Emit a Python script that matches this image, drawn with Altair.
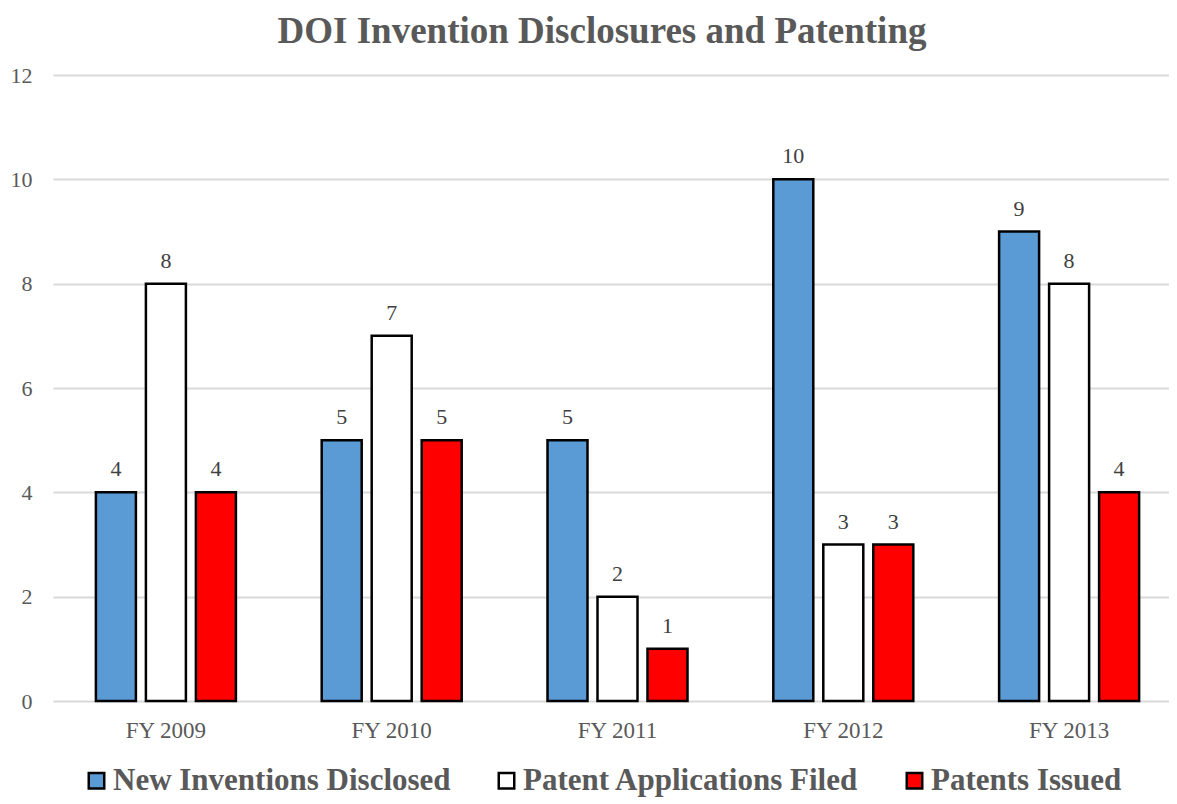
import altair as alt
import pandas as pd

years = ["FY 2009", "FY 2010", "FY 2011", "FY 2012", "FY 2013"]
series = ["New Inventions Disclosed", "Patent Applications Filed", "Patents Issued"]
new_inventions = [4, 5, 5, 10, 9]
applications_filed = [8, 7, 2, 3, 8]
patents_issued = [4, 5, 1, 3, 4]
colors = ["#5B9BD5", "#FFFFFF", "#FF0000"]
y_ticks = [0, 2, 4, 6, 8, 10, 12]

rows = []
for name, vals in zip(series, [new_inventions, applications_filed, patents_issued]):
    for yr, v in zip(years, vals):
        rows.append({"year": yr, "series": name, "value": v})
df = pd.DataFrame(rows)

FONT = "Liberation Serif"

base = alt.Chart(df).encode(
    x=alt.X(
        "year:N",
        sort=years,
        scale=alt.Scale(paddingInner=0.38, paddingOuter=0.19, range=[0, 1129]),
        axis=alt.Axis(
            title=None, labelAngle=0, ticks=False, tickSize=0, domain=False,
            labelFont=FONT, labelFontSize=23, labelColor="#595959",
            labelPadding=18, grid=False,
        ),
    ),
    xOffset=alt.XOffset(
        "series:N", sort=series,
        scale=alt.Scale(paddingInner=0.2, paddingOuter=0),
    ),
    y=alt.Y(
        "value:Q",
        scale=alt.Scale(domain=[0, 12], nice=False),
        axis=alt.Axis(
            title=None, values=y_ticks, ticks=False, tickSize=0, domain=False,
            labelFont=FONT, labelFontSize=22, labelColor="#595959",
            labelPadding=21, gridColor="#D9D9D9", gridWidth=2,
        ),
    ),
)

bars = base.mark_bar(stroke="black", strokeWidth=2.5).encode(
    color=alt.Color(
        "series:N",
        sort=series,
        scale=alt.Scale(domain=series, range=colors),
        legend=alt.Legend(
            title=None, orient="none", direction="horizontal",
            legendX=28, legendY=690,
            symbolType="square", symbolSize=240, symbolStrokeColor="black",
            symbolStrokeWidth=2.5, symbolOpacity=1,
            labelFont=FONT, labelFontSize=31, labelFontWeight="bold",
            labelColor="#595959", labelOffset=1, columnPadding=40,
            labelLimit=500,
        ),
    )
)

labels = base.mark_text(
    dy=-16, baseline="alphabetic", fontSize=22, font=FONT, color="#404040"
).encode(text="value:Q")

chart = (
    alt.layer(bars, labels)
    .properties(
        width=1116,
        height=626,
        autosize=alt.AutoSizeParams(type="none"),
        title=alt.TitleParams(
            "DOI Invention Disclosures and Patenting",
            font=FONT, fontSize=37, fontWeight="bold", color="#595959",
            anchor="middle", dx=-9, offset=13,
        ),
    )
    .configure(padding={"left": 45, "top": 67, "right": 0, "bottom": 97}, background="white")
    .configure_view(stroke=None)
)

chart.save("out.html", embed_options={"renderer": "svg", "actions": False})
